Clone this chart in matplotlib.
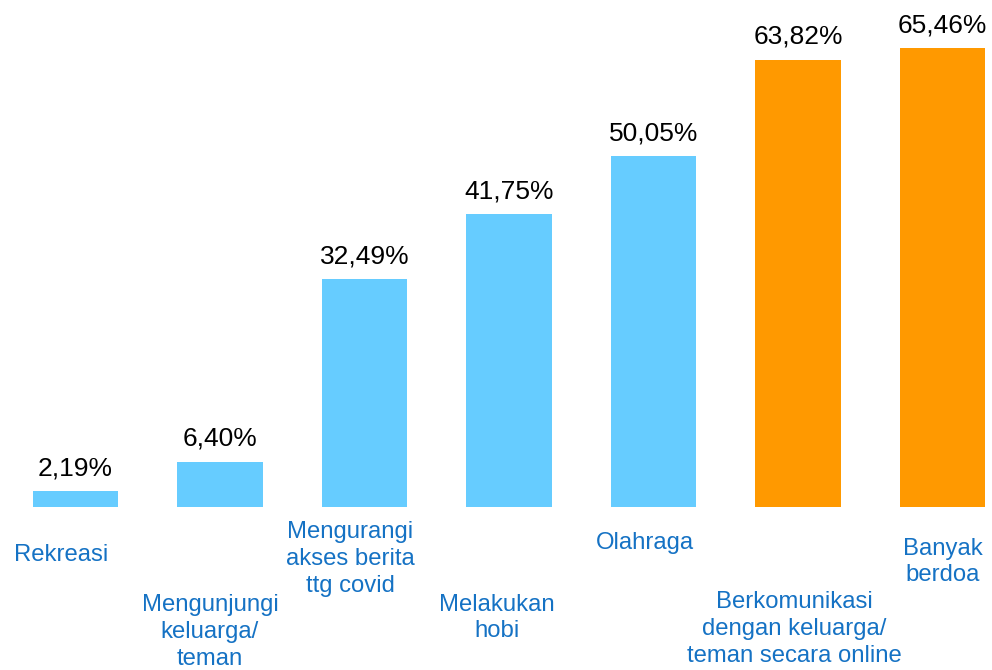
import matplotlib
matplotlib.use("Agg")
from matplotlib import pyplot as plt

# survey results, percent of respondents
categories = [
    "Rekreasi",
    "Mengunjungi\nkeluarga/\nteman",
    "Mengurangi\nakses berita\nttg covid",
    "Melakukan\nhobi",
    "Olahraga",
    "Berkomunikasi\ndengan keluarga/\nteman secara online",
    "Banyak\nberdoa",
]
values = [2.19, 6.40, 32.49, 41.75, 50.05, 63.82, 65.46]
highlight = [False, False, False, False, False, True, True]

BLUE = "#66CCFF"
ORANGE = "#FF9900"
LABEL_BLUE = "#1572C4"

# where each category label sits (pixels from left / top of the figure)
label_pos = [(61, 555), (210, 632), (350, 559), (497, 618),
             (645, 543), (794, 629), (943, 562)]

plt.rcParams["font.family"] = ["Liberation Sans", "DejaVu Sans"]

W, H = 992, 670
fig = plt.figure(figsize=(W / 100, H / 100), dpi=100)
ax = fig.add_axes([0, 0, 1, 1])

x = list(range(len(values)))
colors = [ORANGE if h else BLUE for h in highlight]
ax.bar(x, values, width=0.59, color=colors)

for xi, v in zip(x, values):
    ax.annotate(f"{v:.2f}%".replace(".", ","), (xi, v),
                xytext=(0, 11.5), textcoords="offset points",
                ha="center", va="baseline", fontsize=19, color="black")

for text, (px, py) in zip(categories, label_pos):
    fig.text(px / W, 1 - py / H, text, ha="center", va="center",
             multialignment="center", fontsize=17.2, color=LABEL_BLUE,
             linespacing=1.28)

# bar centers 144.5 px apart, first at 75.5 px; baseline 506.7 px from top
ax.set_xlim(-75.5 / 144.5, (W - 75.5) / 144.5)
scale = 7.007
ax.set_ylim(-(H - 506.7) / scale, 506.7 / scale)
ax.axis("off")

fig.savefig("out.png", dpi=100)
